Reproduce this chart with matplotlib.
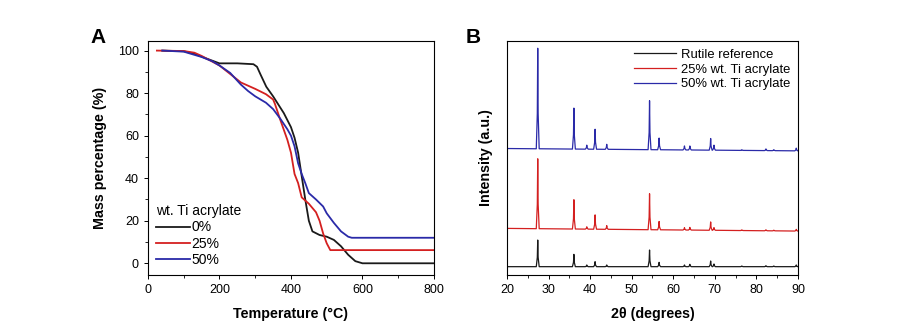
import numpy as np
import matplotlib.pyplot as plt

plt.rcParams['font.family'] = ['Liberation Sans', 'DejaVu Sans']
plt.rcParams['axes.linewidth'] = 0.8

# Panel A: TGA curves (temperature in C, mass %)
t0 = [40, 100, 130, 160, 200, 250, 295, 305, 315, 331, 350, 380, 400, 410, 420,
      430, 440, 450, 460, 480, 500, 520, 540, 560, 580, 600, 800]
m0 = [100, 99.7, 98.5, 96.5, 94, 94, 93.6, 92.4, 88.7, 83, 78.5, 70.6, 64, 59, 52,
      41, 30, 20, 15, 13.3, 12.5, 11, 8, 4, 1, 0, 0]
t25 = [25, 100, 130, 150, 200, 230, 260, 300, 330, 350, 355, 370, 390, 400, 410,
       420, 430, 450, 470, 480, 490, 500, 510, 800]
m25 = [100, 99.8, 99, 97.5, 93, 89, 85, 82, 79.5, 77, 75, 67.5, 58, 52, 42,
       37.7, 31, 28, 24, 20, 14, 9.4, 6.2, 6.2]
t50 = [40, 100, 130, 150, 180, 200, 230, 260, 280, 300, 330, 350, 370, 390, 400,
       410, 420, 430, 440, 450, 470, 490, 500, 520, 540, 560, 570, 800]
m50 = [100, 99.5, 98, 97, 95, 93, 89.5, 84, 81, 78.5, 75.5, 72.5, 68, 63, 60,
       55, 47, 42, 37.7, 33, 30, 26.7, 23.5, 19, 15, 12.5, 12, 12]

# Panel B: XRD peaks (2theta) and heights above baseline (a.u.)
peaks = [27.4, 36.1, 39.2, 41.2, 44.0, 54.3, 56.6, 62.7, 64.0, 69.0, 69.8, 76.5, 82.3, 84.2, 89.6]
h_rutile = [80, 37, 5, 15, 5, 50, 13, 5, 7, 17, 8, 2, 3, 2, 5]
h_25 = [210, 88, 7, 43, 11, 108, 25, 7, 8, 25, 8, 2, 3, 2, 5]
h_50 = [302, 123, 12, 60, 15, 147, 35, 12, 12, 35, 15, 2, 5, 3, 8]
base_rutile = (25, 25)
base_25 = (140, 132)
base_50 = (380, 373)


def xrd_trace(heights, base, w=0.35):
    xs, ys = [20.0], [base[0]]
    for p, h in zip(peaks, heights):
        b = base[0] + (base[1] - base[0]) * (p - 20) / 70
        xs += [p - w, p - 0.1, p, p + 0.1, p + w]
        ys += [b, b + h * 0.35, b + h, b + h * 0.35, b]
    xs.append(90.0)
    ys.append(base[1])
    return xs, ys


fig = plt.figure(figsize=(9, 3.3), dpi=100)

axA = fig.add_axes([0.1644, 0.1667, 0.3178, 0.709])
axA.plot(t0, m0, color='#1a1a1a', lw=1.3, label='0%')
axA.plot(t25, m25, color='#d42020', lw=1.3, label='25%')
axA.plot(t50, m50, color='#2a2aa8', lw=1.3, label='50%')
axA.set_xlim(0, 800)
axA.set_ylim(-5.5, 104.5)
axA.set_xticks([0, 200, 400, 600, 800])
axA.set_xticks([100, 300, 500, 700], minor=True)
axA.set_yticks([0, 20, 40, 60, 80, 100])
axA.set_yticks([10, 30, 50, 70, 90], minor=True)
axA.tick_params(labelsize=9, direction='out', length=3, width=0.7)
axA.tick_params(which='minor', length=2, width=0.6)
axA.set_xlabel('Temperature (°C)', fontsize=10.3, fontweight='bold', labelpad=8)
axA.set_ylabel('Mass percentage (%)', fontsize=10.3, fontweight='bold', labelpad=8)
leg = axA.legend(title='wt. Ti acrylate', loc='lower left', frameon=False,
                 fontsize=10, title_fontsize=10, handlelength=2.4,
                 handletextpad=0.1, labelspacing=0.15, borderaxespad=0.2,
                 bbox_to_anchor=(0.0, 0.0))
leg._legend_box.align = 'left'
fig.text(0.1, 0.87, 'A', fontsize=15, fontweight='bold')

axB = fig.add_axes([0.5633, 0.1667, 0.3233, 0.709])
for h, base, col, lab in [(h_rutile, base_rutile, '#1a1a1a', 'Rutile reference'),
                          (h_25, base_25, '#d42020', '25% wt. Ti acrylate'),
                          (h_50, base_50, '#2a2aa8', '50% wt. Ti acrylate')]:
    x, y = xrd_trace(h, base)
    axB.plot(x, y, color=col, lw=0.9, label=lab)
axB.set_xlim(20, 90)
axB.set_ylim(0, 703)
axB.set_yticks([])
axB.set_xticks([20, 30, 40, 50, 60, 70, 80, 90])
axB.set_xticks([25, 35, 45, 55, 65, 75, 85], minor=True)
axB.tick_params(labelsize=9, direction='out', length=3, width=0.7)
axB.tick_params(which='minor', length=2, width=0.6)
axB.set_xlabel('2θ (degrees)', fontsize=10.3, fontweight='bold', labelpad=8)
axB.set_ylabel('Intensity (a.u.)', fontsize=10.3, fontweight='bold', labelpad=10)
axB.legend(loc='upper right', frameon=False, fontsize=9.4, handlelength=3.2,
           handletextpad=0.4, labelspacing=0.2, borderaxespad=0.2)
fig.text(0.517, 0.87, 'B', fontsize=15, fontweight='bold')

fig.savefig('out.png', dpi=100)
